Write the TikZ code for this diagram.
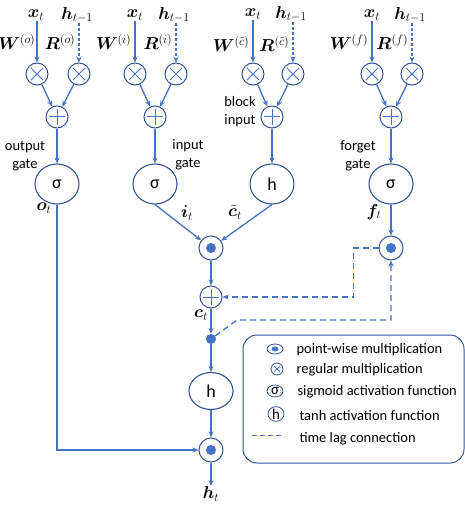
\documentclass[tikz,border=0pt]{standalone}
\usepackage{fontspec}
\setmainfont{Carlito}
\usepackage{amsmath}
\usepackage{bm}
\usetikzlibrary{arrows.meta,shapes.geometric}

\definecolor{lstmblue}{RGB}{68,114,196}
\definecolor{lstmdark}{RGB}{47,85,151}

\begin{document}
\begin{tikzpicture}[x=1pt,y=-1pt,
        conn/.style={draw=lstmblue, line width=1.3pt, -{Stealth[length=6pt,width=5pt]}},
        lag/.style={conn, dash pattern=on 6pt off 4pt},
        mult/.style={circle, draw=lstmdark, line width=1pt, minimum size=22pt, inner sep=0pt,
            path picture={\draw[lstmblue, line width=1pt] (path picture bounding box.center)
                +(-6pt,-6pt) -- +(6pt,6pt) +(-6pt,6pt) -- +(6pt,-6pt);}},
        plusn/.style={circle, draw=lstmdark, line width=1pt, minimum size=22pt, inner sep=0pt,
            path picture={\draw[lstmblue, line width=1pt] (path picture bounding box.center)
                +(-8pt,0pt) -- +(8pt,0pt) +(0pt,-8pt) -- +(0pt,8pt);}},
        pwmult/.style={circle, draw=lstmdark, line width=1pt, minimum size=24pt, inner sep=0pt,
            path picture={\fill[lstmblue] (path picture bounding box.center) circle (5pt);}},
        act/.style={ellipse, draw=lstmdark, line width=1.1pt, minimum width=44pt, minimum height=40pt,
            inner sep=0pt, font=\fontsize{18}{18}\selectfont},
        dotn/.style={circle, fill=lstmblue, minimum size=10pt, inner sep=0pt},
        lbl/.style={inner sep=0.5pt, font=\fontsize{17}{17}\selectfont},
        txt/.style={align=center, font=\fontsize{14.5}{18}\selectfont},
        keytxt/.style={anchor=west, font=\fontsize{14.5}{16}\selectfont},
    ]
    \useasboundingbox (0,0) rectangle (465,508);

    % output gate
    \node[lbl] (xo) at (36,15) {$\bm{x}_t$};
    \node[lbl] (ho) at (77,15) {$\bm{h}_{t-1}$};
    \node[lbl, anchor=east] (Wo) at (36,42) {$\bm{W}^{(o)}$};
    \node[lbl, anchor=east] (Ro) at (76,42) {$\bm{R}^{(o)}$};
    \node[mult] (mxo) at (37,74) {};
    \node[mult] (mho) at (79,74) {};
    \node[plusn] (po) at (57,117) {};
    \node[act] (so) at (57,184) {σ};
    \node[txt] (to) at (25,156) {output\\gate};
    \node[lbl] (ot) at (44,208) {$\bm{o}_t$};

    % input gate
    \node[lbl] (xi) at (135,15) {$\bm{x}_t$};
    \node[lbl] (hi) at (174,15) {$\bm{h}_{t-1}$};
    \node[lbl, anchor=east] (Wi) at (132,42) {$\bm{W}^{(i)}$};
    \node[lbl, anchor=east] (Ri) at (173,42) {$\bm{R}^{(i)}$};
    \node[mult] (mxi) at (135,74) {};
    \node[mult] (mhi) at (176,74) {};
    \node[plusn] (pi) at (155,117) {};
    \node[act] (si) at (155,184) {σ};
    \node[txt] (ti) at (188,155) {input\\gate};
    \node[lbl] (it) at (187,213) {$\bm{i}_t$};

    % block input
    \node[lbl] (xc) at (253,14) {$\bm{x}_t$};
    \node[lbl] (hc) at (291,14) {$\bm{h}_{t-1}$};
    \node[lbl, anchor=east] (Wc) at (250,44) {$\bm{W}^{(\tilde{c})}$};
    \node[lbl, anchor=east] (Rc) at (290,44) {$\bm{R}^{(\tilde{c})}$};
    \node[mult] (mxc) at (253,74) {};
    \node[mult] (mhc) at (293,74) {};
    \node[plusn] (pb) at (272,117) {};
    \node[act] (hb) at (272,184) {h};
    \node[txt] (tb) at (240,112) {block\\input};
    \node[lbl] (ct) at (235,212) {$\tilde{\bm{c}}_t$};

    % forget gate
    \node[lbl] (xf) at (372,15) {$\bm{x}_t$};
    \node[lbl] (hf) at (410,15) {$\bm{h}_{t-1}$};
    \node[lbl, anchor=east] (Wf) at (369,42) {$\bm{W}^{(f)}$};
    \node[lbl, anchor=east] (Rf) at (409,42) {$\bm{R}^{(f)}$};
    \node[mult] (mxf) at (372,74) {};
    \node[mult] (mhf) at (412,74) {};
    \node[plusn] (pf) at (391,117) {};
    \node[act] (sf) at (391,184) {σ};
    \node[txt] (tf) at (358,156) {forget\\gate};
    \node[lbl] (ft) at (374,212) {$\bm{f}_t$};

    % cell
    \node[pwmult] (pw) at (211,248) {};
    \node[pwmult] (fpw) at (391,248) {};
    \node[plusn] (pc) at (211,297) {};
    \node[lbl] (cell) at (201,315) {$\bm{c}_t$};
    \node[dotn] (dc) at (211,339) {};
    \node[act, minimum height=37pt] (hcell) at (211,391) {h};
    \node[pwmult] (pwh) at (211,450) {};
    \node[lbl] (htout) at (211,494) {$\bm{h}_t$};

    % connectors of the four gates
    \draw[conn] (xo.south -| mxo) -- (mxo);
    \draw[conn, dash pattern=on 3pt off 2pt] (ho.south -| mho) -- (mho);
    \draw[conn] (mxo) -- (po);
    \draw[conn] (mho) -- (po);
    \draw[conn] (po) -- (so);
    \draw[conn] (xi) -- (mxi);
    \draw[conn, dash pattern=on 3pt off 2pt] (hi.south -| mhi) -- (mhi);
    \draw[conn] (mxi) -- (pi);
    \draw[conn] (mhi) -- (pi);
    \draw[conn] (pi) -- (si);
    \draw[conn] (xc) -- (mxc);
    \draw[conn, dash pattern=on 3pt off 2pt] (hc.south -| mhc) -- (mhc);
    \draw[conn] (mxc) -- (pb);
    \draw[conn] (mhc) -- (pb);
    \draw[conn] (pb) -- (hb);
    \draw[conn] (xf) -- (mxf);
    \draw[conn, dash pattern=on 3pt off 2pt] (hf.south -| mhf) -- (mhf);
    \draw[conn] (mxf) -- (pf);
    \draw[conn] (mhf) -- (pf);
    \draw[conn] (pf) -- (sf);

    % cell connectors
    \draw[conn] (si.south) -- (pw);
    \draw[conn] (hb.south) -- (pw);
    \draw[conn] (sf) -- (fpw);
    \draw[conn] (pw) -- (pc);
    \draw[conn] (pc) -- (dc);
    \draw[conn] (dc) -- (hcell);
    \draw[conn] (hcell) -- (pwh);
    \draw[conn] (pwh) -- (htout);
    \draw[conn] (so) |- (pwh);
    \draw[lag] (fpw.west) -- ++(-25,0) |- (pc);
    \draw[lag] (dc) -- (237,320) -| (fpw);

    % legend
    \draw[lstmdark, line width=1pt, rounded corners=14pt] (243,335) rectangle (464,463);
    \node[ellipse, draw=lstmdark, line width=0.8pt, minimum width=16pt, minimum height=10pt, inner sep=0pt,
        path picture={\fill[lstmblue] (path picture bounding box.center) ellipse (3.5pt and 2.5pt);}]
        (keypw) at (275,349) {};
    \node[circle, draw=lstmdark, line width=0.8pt, minimum size=12pt, inner sep=0pt,
        path picture={\draw[lstmblue, line width=0.8pt] (path picture bounding box.center)
            +(-3pt,-3pt) -- +(3pt,3pt) +(-3pt,3pt) -- +(3pt,-3pt);}]
        (keymult) at (277,369) {};
    \node[ellipse, draw=lstmdark, line width=0.8pt, minimum width=16pt, minimum height=12pt, inner sep=0pt,
        font=\fontsize{15}{15}\selectfont] (keysig) at (275,391) {σ};
    \node[ellipse, draw=lstmdark, line width=0.8pt, minimum width=16pt, minimum height=12pt, inner sep=0pt,
        font=\fontsize{15}{15}\selectfont] (keyh) at (276,414) {h};
    \coordinate (keylagA) at (252,435);
    \coordinate (keylagB) at (283,435);
    \draw[lstmblue, line width=1pt, dash pattern=on 5pt off 3pt] (keylagA) -- (keylagB);
    \node[keytxt] (ktpw) at (293,350) {point-wise multiplication};
    \node[keytxt] (ktmult) at (293,370) {regular multiplication};
    \node[keytxt] (ktsig) at (294,392) {sigmoid activation function};
    \node[keytxt] (kth) at (296,416) {tanh activation function};
    \node[keytxt] (ktlag) at (296,439) {time lag connection};

\end{tikzpicture}
\end{document}
